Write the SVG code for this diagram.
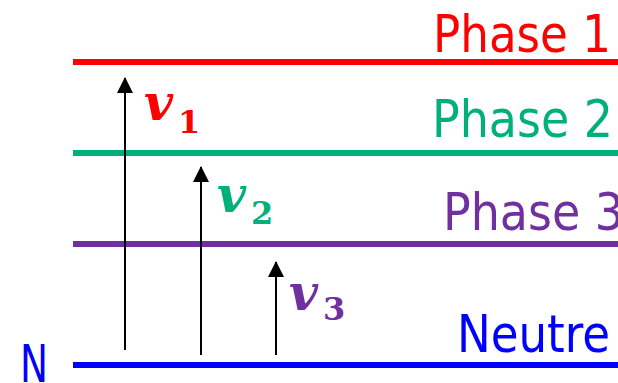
<svg xmlns="http://www.w3.org/2000/svg" width="618" height="383" viewBox="0 0 618 383">
<defs>
<style>
.lbl{font-family:"DejaVu Sans Condensed","DejaVu Sans","Liberation Sans",sans-serif;font-size:52px}
.v{font-family:"DejaVu Serif","Liberation Serif",serif;font-style:italic;font-weight:bold;font-size:50px}
.sub{font-family:"DejaVu Serif","Liberation Serif",serif;font-weight:bold;font-size:32px}
.wire{stroke-width:6;fill:none}
.arr{stroke:#000;stroke-width:2;fill:none}
</style>
<marker id="ah" markerWidth="16" markerHeight="16" viewBox="0 0 16 16" refX="15" refY="8" orient="auto" markerUnits="userSpaceOnUse">
<path d="M0,0 L16,8 L0,16 Z" fill="#000"/>
</marker>
</defs>
<rect width="618" height="383" fill="#fff"/>
<g id="phase1">
<line class="wire" x1="73" y1="62" x2="618" y2="62" stroke="#FF0000"/>
<text class="lbl" x="433" y="52" textLength="178" lengthAdjust="spacingAndGlyphs" fill="#FF0000">Phase 1</text>
</g>
<g id="phase2">
<line class="wire" x1="73" y1="153" x2="618" y2="153" stroke="#00B07A"/>
<text class="lbl" x="432" y="137" textLength="181" lengthAdjust="spacingAndGlyphs" fill="#00B07A">Phase 2</text>
</g>
<g id="phase3">
<line class="wire" x1="73" y1="244" x2="618" y2="244" stroke="#7030A0"/>
<text class="lbl" x="443" y="230" textLength="181" lengthAdjust="spacingAndGlyphs" fill="#7030A0">Phase 3</text>
</g>
<g id="neutre">
<line class="wire" x1="73" y1="365" x2="618" y2="365" stroke="#0000FF"/>
<text class="lbl" x="457" y="352" textLength="153" lengthAdjust="spacingAndGlyphs" fill="#0000FF">Neutre</text>
<text class="lbl" x="20" y="382" textLength="28" lengthAdjust="spacingAndGlyphs" fill="#0000FF">N</text>
</g>
<g id="connectors">
<line class="arr" x1="125" y1="350" x2="125" y2="78" marker-end="url(#ah)"/>
<line class="arr" x1="201" y1="355" x2="201" y2="167" marker-end="url(#ah)"/>
<line class="arr" x1="276" y1="355" x2="276" y2="262" marker-end="url(#ah)"/>
</g>
<g id="v1" fill="#FF0000">
<text class="v" x="144" y="120">v</text>
<text class="sub" x="178" y="133">1</text>
</g>
<g id="v2" fill="#00B07A">
<text class="v" x="217" y="212">v</text>
<text class="sub" x="251" y="224">2</text>
</g>
<g id="v3" fill="#7030A0">
<text class="v" x="289" y="310">v</text>
<text class="sub" x="323" y="320">3</text>
</g>
</svg>
